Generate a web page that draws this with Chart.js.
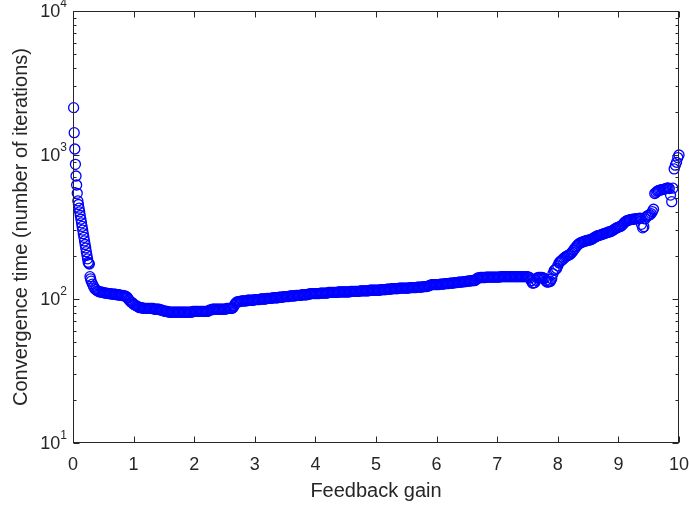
<!DOCTYPE html>
<html>
<head>
<meta charset="utf-8">
<script src="https://cdn.jsdelivr.net/npm/chart.js@4.4.0/dist/chart.umd.min.js"></script>
<style>
  html, body { margin: 0; padding: 0; background: #ffffff; }
  #wrap { width: 689px; height: 508px; }
</style>
</head>
<body>
<div id="wrap"><canvas id="gain-chart" width="689" height="508"></canvas></div>
<script>
// --- data ---
const gains = [
    0.01,0.02,0.03,0.04,0.05,0.06,0.07,0.08,0.09,0.10,0.11,0.12,0.13,0.14,0.15,
    0.16,0.17,0.18,0.19,0.20,0.21,0.22,0.23,0.24,0.25,0.26,0.27,0.28,0.29,0.30,
    0.32,0.34,0.36,0.38,0.40,0.42,0.44,0.46,0.48,0.50,
    0.52,0.54,0.56,0.58,0.60,0.62,0.64,0.66,0.68,0.70,0.72,0.74,0.76,0.78,0.80,0.82,0.84,0.86,0.88,0.90,0.92,0.94,0.96,0.98,1.00,
    1.02,1.04,1.06,1.08,1.10,1.12,1.14,1.16,1.18,1.20,1.22,1.24,1.26,1.28,1.30,1.32,1.34,1.36,1.38,1.40,1.42,1.44,1.46,1.48,1.50,
    1.52,1.54,1.56,1.58,1.60,1.62,1.64,1.66,1.68,1.70,1.72,1.74,1.76,1.78,1.80,1.82,1.84,1.86,1.88,1.90,1.92,1.94,1.96,1.98,2.00,
    2.02,2.04,2.06,2.08,2.10,2.12,2.14,2.16,2.18,2.20,2.22,2.24,2.26,2.28,2.30,2.32,2.34,2.36,2.38,2.40,2.42,2.44,2.46,2.48,2.50,
    2.52,2.54,2.56,2.58,2.60,2.62,2.64,2.66,2.68,2.70,2.72,2.74,2.76,2.78,2.80,2.82,2.84,2.86,2.88,2.90,2.92,2.94,2.96,2.98,3.00,
    3.02,3.04,3.06,3.08,3.10,3.12,3.14,3.16,3.18,3.20,3.22,3.24,3.26,3.28,3.30,3.32,3.34,3.36,3.38,3.40,3.42,3.44,3.46,3.48,3.50,
    3.52,3.54,3.56,3.58,3.60,3.62,3.64,3.66,3.68,3.70,3.72,3.74,3.76,3.78,3.80,3.82,3.84,3.86,3.88,3.90,3.92,3.94,3.96,3.98,4.00,
    4.02,4.04,4.06,4.08,4.10,4.12,4.14,4.16,4.18,4.20,4.22,4.24,4.26,4.28,4.30,4.32,4.34,4.36,4.38,4.40,4.42,4.44,4.46,4.48,4.50,
    4.52,4.54,4.56,4.58,4.60,4.62,4.64,4.66,4.68,4.70,4.72,4.74,4.76,4.78,4.80,4.82,4.84,4.86,4.88,4.90,4.92,4.94,4.96,4.98,5.00,
    5.02,5.04,5.06,5.08,5.10,5.12,5.14,5.16,5.18,5.20,5.22,5.24,5.26,5.28,5.30,5.32,5.34,5.36,5.38,5.40,5.42,5.44,5.46,5.48,5.50,
    5.52,5.54,5.56,5.58,5.60,5.62,5.64,5.66,5.68,5.70,5.72,5.74,5.76,5.78,5.80,5.82,5.84,5.86,5.88,5.90,5.92,5.94,5.96,5.98,6.00,
    6.02,6.04,6.06,6.08,6.10,6.12,6.14,6.16,6.18,6.20,6.22,6.24,6.26,6.28,6.30,6.32,6.34,6.36,6.38,6.40,6.42,6.44,6.46,6.48,6.50,
    6.52,6.54,6.56,6.58,6.60,6.62,6.64,6.66,6.68,6.70,6.72,6.74,6.76,6.78,6.80,6.82,6.84,6.86,6.88,6.90,6.92,6.94,6.96,6.98,7.00,
    7.02,7.04,7.06,7.08,7.10,7.12,7.14,7.16,7.18,7.20,7.22,7.24,7.26,7.28,7.30,7.32,7.34,7.36,7.38,7.40,7.42,7.44,7.46,7.48,7.50,
    7.52,7.54,7.56,7.58,7.60,7.62,7.64,7.66,7.68,7.70,7.72,7.74,7.76,7.78,7.80,7.82,7.84,7.86,7.88,7.90,7.92,7.94,7.96,7.98,8.00,
    8.02,8.04,8.06,8.08,8.10,8.12,8.14,8.16,8.18,8.20,8.22,8.24,8.26,8.28,8.30,8.32,8.34,8.36,8.38,8.40,8.42,8.44,8.46,8.48,8.50,
    8.52,8.54,8.56,8.58,8.60,8.62,8.64,8.66,8.68,8.70,8.72,8.74,8.76,8.78,8.80,8.82,8.84,8.86,8.88,8.90,8.92,8.94,8.96,8.98,9.00,
    9.02,9.04,9.06,9.08,9.10,9.12,9.14,9.16,9.18,9.20,9.22,9.24,9.26,9.28,9.30,9.32,9.34,9.36,9.38,9.40,9.42,9.44,9.46,9.48,9.50,
    9.52,9.54,9.56,9.58,9.60,9.62,9.64,9.66,9.68,9.70,9.72,9.74,9.76,9.78,9.80,9.82,9.84,9.86,9.88,9.90,9.92,9.94,9.96,9.98,10.00
];

const iterations = [
    2133,1429,1101,861,715,619,542,480,453,427,403,380,358,338,319,
    301,284,268,253,239,226,213,201,190,180,177,175,143,138,133,
    127,122,118,116,114,113,112,112,111,111,
    110,110,110,109,109,109,108,108,108,108,107,107,107,106,106,106,105,105,104,102,99,97,95,94,92,
    91,90,89,88,87,87,87,86,86,86,86,86,86,86,86,86,85,85,85,85,85,84,84,83,83,
    82,82,82,81,81,81,81,81,81,81,81,81,81,81,81,81,81,81,81,81,81,81,81,82,82,
    82,82,82,82,82,82,82,82,82,82,82,83,84,84,85,85,85,85,85,85,85,85,85,85,85,
    85,86,86,86,86,86,87,90,93,95,96,96,96,97,97,97,97,97,98,98,98,98,98,98,99,
    99,99,99,99,100,100,100,100,100,101,101,101,101,101,102,102,102,102,102,103,103,103,103,104,104,
    104,104,104,105,105,105,105,105,106,106,106,106,106,107,107,107,107,107,108,108,109,109,109,109,109,
    109,109,109,110,110,110,110,110,110,110,111,111,111,111,111,111,111,111,112,112,112,112,112,112,112,
    112,112,112,113,113,113,113,113,113,113,113,114,114,114,114,114,114,114,114,115,115,115,115,115,115,
    115,115,115,116,116,116,116,116,117,117,117,117,118,118,118,118,118,118,119,119,119,119,119,119,119,
    119,119,120,120,120,120,120,120,121,121,121,121,121,122,122,122,122,123,124,125,126,126,126,126,126,
    126,126,127,127,127,127,128,128,128,128,129,129,129,129,130,130,130,131,131,131,131,132,132,132,133,
    133,133,134,134,134,134,135,138,140,140,141,141,141,141,141,142,142,142,142,142,142,142,142,142,142,
    142,142,143,143,143,143,143,143,143,143,143,143,143,143,143,143,143,143,143,143,143,143,143,143,143,
    142,140,134,129,129,130,135,140,141,141,141,141,140,139,134,131,131,132,133,138,150,158,160,163,170,
    178,182,185,188,192,195,198,200,202,204,208,212,218,224,230,235,240,244,246,248,250,252,253,254,256,
    257,258,260,263,267,270,273,275,277,278,280,282,284,286,288,290,292,293,295,298,302,306,310,313,316,
    318,320,325,332,340,346,350,352,354,356,357,358,359,360,361,362,363,364,330,312,318,360,372,378,382,
    385,392,405,420,540,550,560,565,570,572,575,578,580,585,588,590,585,527,474,588,800,850,890,960,1000
];

const xTickValues = [0, 1, 2, 3, 4, 5, 6, 7, 8, 9, 10];
const yDecades = [10, 100, 1000, 10000];
const yExponents = ['1', '2', '3', '4'];

const X_TITLE = 'Feedback gain';
const Y_TITLE = 'Convergence time (number of iterations)';

// --- style ---
const AXIS_COLOR = '#262626';
const FONT_FAMILY = '"Liberation Sans", Arial, Helvetica, sans-serif';

// กรอบแกนแบบ MATLAB: เส้นรอบ, ขีดเข้าด้านใน, ป้าย 10^n
const matlabAxes = {
    id: 'matlabAxes',
    afterDatasetsDraw(chart) {
        const { ctx, chartArea: a, scales: { x, y } } = chart;
        const L = Math.round(a.left) + 0.5;
        const R = Math.round(a.right) - 0.5;
        const T = Math.round(a.top) + 0.5;
        const B = Math.round(a.bottom) - 0.5;

        ctx.save();
        ctx.strokeStyle = AXIS_COLOR;
        ctx.lineWidth = 1;
        ctx.strokeRect(L, T, R - L, B - T);

        ctx.beginPath();
        // x ticks, bottom and top
        xTickValues.forEach(v => {
            const px = Math.round(x.getPixelForValue(v)) + 0.5;
            ctx.moveTo(px, B); ctx.lineTo(px, B - 6);
            ctx.moveTo(px, T); ctx.lineTo(px, T + 6);
        });
        // y ticks, major and minor
        yDecades.forEach((d, i) => {
            const py = Math.round(y.getPixelForValue(d)) + 0.5;
            ctx.moveTo(L, py); ctx.lineTo(L + 6, py);
            ctx.moveTo(R, py); ctx.lineTo(R - 6, py);
            if (i < yDecades.length - 1) {
                for (let m = 2; m <= 9; m++) {
                    const pm = Math.round(y.getPixelForValue(d * m)) + 0.5;
                    ctx.moveTo(L, pm); ctx.lineTo(L + 3, pm);
                    ctx.moveTo(R, pm); ctx.lineTo(R - 3, pm);
                }
            }
        });
        ctx.stroke();

        ctx.fillStyle = AXIS_COLOR;

        // x tick labels
        ctx.font = '18px ' + FONT_FAMILY;
        ctx.textAlign = 'center';
        ctx.textBaseline = 'alphabetic';
        xTickValues.forEach(v => {
            ctx.fillText(String(v), x.getPixelForValue(v), a.bottom + 27);
        });

        // y tick labels 10^n
        ctx.textAlign = 'left';
        yDecades.forEach((d, i) => {
            const py = y.getPixelForValue(d);
            ctx.font = '12px ' + FONT_FAMILY;
            const we = ctx.measureText(yExponents[i]).width;
            ctx.font = '18px ' + FONT_FAMILY;
            const wb = ctx.measureText('10').width;
            const right = a.left - 6;
            ctx.fillText('10', right - we - wb, py + 6);
            ctx.font = '12px ' + FONT_FAMILY;
            ctx.fillText(yExponents[i], right - we, py - 4);
        });

        // axis titles
        ctx.font = '20px ' + FONT_FAMILY;
        ctx.textAlign = 'center';
        ctx.fillText(X_TITLE, (a.left + a.right) / 2, a.bottom + 54);

        ctx.translate(27, (a.top + a.bottom) / 2);
        ctx.rotate(-Math.PI / 2);
        ctx.fillText(Y_TITLE, 0, 0);
        ctx.restore();
    }
};

const points = gains.map((g, i) => ({ x: g, y: iterations[i] }));

new Chart(document.getElementById('gain-chart'), {
    type: 'scatter',
    data: {
        datasets: [{
            data: points,
            pointStyle: 'circle',
            pointRadius: 5,
            pointHoverRadius: 5,
            pointBackgroundColor: 'rgba(0,0,0,0)',
            pointBorderColor: '#0000ff',
            pointBorderWidth: 1.3,
            clip: false
        }]
    },
    options: {
        responsive: false,
        animation: false,
        devicePixelRatio: 1,
        events: [],
        layout: { padding: { top: 11, right: 10, left: 0, bottom: 0 } },
        plugins: {
            legend: { display: false },
            tooltip: { enabled: false }
        },
        scales: {
            x: {
                type: 'linear',
                min: 0,
                max: 10,
                grid: { display: false },
                border: { display: false },
                ticks: { display: false },
                afterFit(scale) { scale.height = 65; }
            },
            y: {
                type: 'logarithmic',
                min: 10,
                max: 10000,
                grid: { display: false },
                border: { display: false },
                ticks: { display: false },
                afterFit(scale) { scale.width = 73; }
            }
        }
    },
    plugins: [matlabAxes]
});
</script>
</body>
</html>
